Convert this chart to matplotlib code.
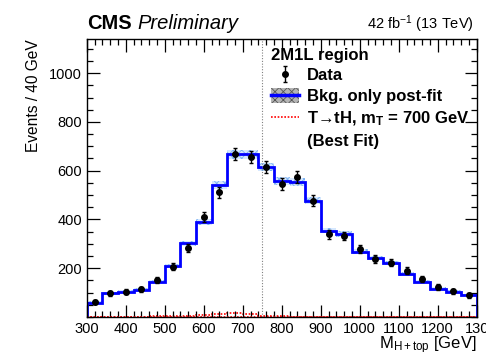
import numpy as np
import matplotlib
matplotlib.use("Agg")
import matplotlib.pyplot as plt
from matplotlib.patches import Patch
from matplotlib.lines import Line2D
from matplotlib.ticker import MultipleLocator

plt.rcParams["font.family"] = ["Liberation Sans", "DejaVu Sans"]
plt.rcParams["mathtext.fontset"] = "custom"
plt.rcParams["mathtext.rm"] = "Liberation Sans"
plt.rcParams["mathtext.it"] = "Liberation Sans:italic"
plt.rcParams["mathtext.bf"] = "Liberation Sans:bold"
plt.rcParams["hatch.linewidth"] = 0.6

# 40 GeV bins from 300 to 1300
edges = np.arange(300, 1301, 40)
data = [61, 97, 104, 114, 152, 206, 282, 409, 511, 668, 655, 614, 545,
        575, 477, 339, 332, 279, 237, 223, 189, 155, 122, 106, 88]
bkg = [58, 97, 103, 111, 145, 209, 302, 388, 541, 668, 668, 614, 559,
       552, 477, 354, 339, 268, 241, 220, 175, 145, 115, 104, 90]
signal = [0.5, 1, 1, 1.5, 2, 3, 5, 8, 11, 14, 13, 4, 2, 1, 1,
          0.5, 0.5, 0.5, 0.5, 0.3, 0.3, 0.3, 0.2, 0.2, 0.2]

centers = 0.5 * (edges[:-1] + edges[1:])
data = np.array(data, dtype=float)
bkg = np.array(bkg, dtype=float)
band = 0.022 * bkg + 4

fig = plt.figure(figsize=(4.86, 3.52), dpi=100)
ax = fig.add_axes([0.1784, 0.0997, 0.8025, 0.7881])

# uncertainty band
bkg_ext = np.append(bkg, bkg[-1])
band_ext = np.append(band, band[-1])
ax.fill_between(edges, bkg_ext - band_ext, bkg_ext + band_ext, step="post",
                facecolor="#d6e8ff", edgecolor="#78b0f2", hatch="xxxx",
                linewidth=0)

# background histogram
ax.stairs(bkg, edges, color="#0000ff", linewidth=2.0, baseline=None)
ax.plot([edges[0], edges[0]], [0, bkg[0]], color="#0000ff", lw=2.0)
ax.plot([edges[-1], edges[-1]], [0, bkg[-1]], color="#0000ff", lw=2.0)

# signal
ax.stairs(signal, edges, color="red", linestyle=(0, (1, 1)), linewidth=1.2,
          baseline=None)
ax.axhline(0.8, color="red", linestyle=(0, (1, 1)), linewidth=1.2)

# data
err = np.sqrt(data)
dh = ax.errorbar(centers, data, yerr=err, fmt="o", color="black",
                 markersize=4, elinewidth=1, capsize=1.5, capthick=1)

ax.axvline(750, color="gray", linestyle=(0, (1, 1.5)), linewidth=0.8)

ax.set_xlim(300, 1300)
ax.set_ylim(0, 1138)
ax.xaxis.set_major_locator(MultipleLocator(100))
ax.xaxis.set_minor_locator(MultipleLocator(20))
ax.yaxis.set_major_locator(MultipleLocator(200))
ax.yaxis.set_minor_locator(MultipleLocator(50))
ax.tick_params(which="both", direction="in", top=True, right=True,
               labelsize=10.5, width=0.9)
ax.tick_params(which="major", length=9)
ax.tick_params(which="minor", length=4.5)
ax.tick_params(axis="x", pad=4)
ax.set_yticks([200, 400, 600, 800, 1000])
ax.set_xticks(np.arange(300, 1301, 100))
ax.set_xticklabels([str(v) for v in range(300, 1201, 100)] + ["130"])
for s in ax.spines.values():
    s.set_linewidth(1.0)

ax.set_ylabel("Events / 40 GeV", fontsize=11.2, loc="top", labelpad=6)
fig.text(0.981, 0.008, r"M$_{\mathrm{H+top}}$ [GeV]", fontsize=12,
         ha="right", va="baseline")

fig.text(0.1784, 0.918, "CMS", fontsize=14.5, fontweight="bold",
         ha="left", va="baseline")
fig.text(0.282, 0.918, "Preliminary", fontsize=14.5, style="italic",
         ha="left", va="baseline")
fig.text(0.974, 0.918, r"42 fb$^{-1}$ (13 TeV)", fontsize=10.5,
         ha="right", va="baseline")

handles = [
    dh,
    (Patch(facecolor="#b4b4b4", edgecolor="#555555", hatch="xxxx", lw=0),
     Line2D([], [], color="#0000ff", lw=2.5)),
    Line2D([], [], color="red", linestyle=(0, (1, 1)), lw=1.2),
    Line2D([], [], color="none"),
]
labels = ["Data", "Bkg. only post-fit",
          "T\u2192tH, $\\mathbf{m_{T}}$ = 700 GeV", "(Best Fit)"]
leg = ax.legend(handles, labels, loc="upper left",
                bbox_to_anchor=(0.455, 0.995), frameon=False,
                title="2M1L region", alignment="left",
                prop={"weight": "bold", "size": 12},
                title_fontproperties={"weight": "bold", "size": 12},
                handlelength=1.7, handleheight=0.95, handletextpad=0.45,
                labelspacing=0.3, borderpad=0.2, borderaxespad=0.2)

fig.savefig("out.png", dpi=100)
